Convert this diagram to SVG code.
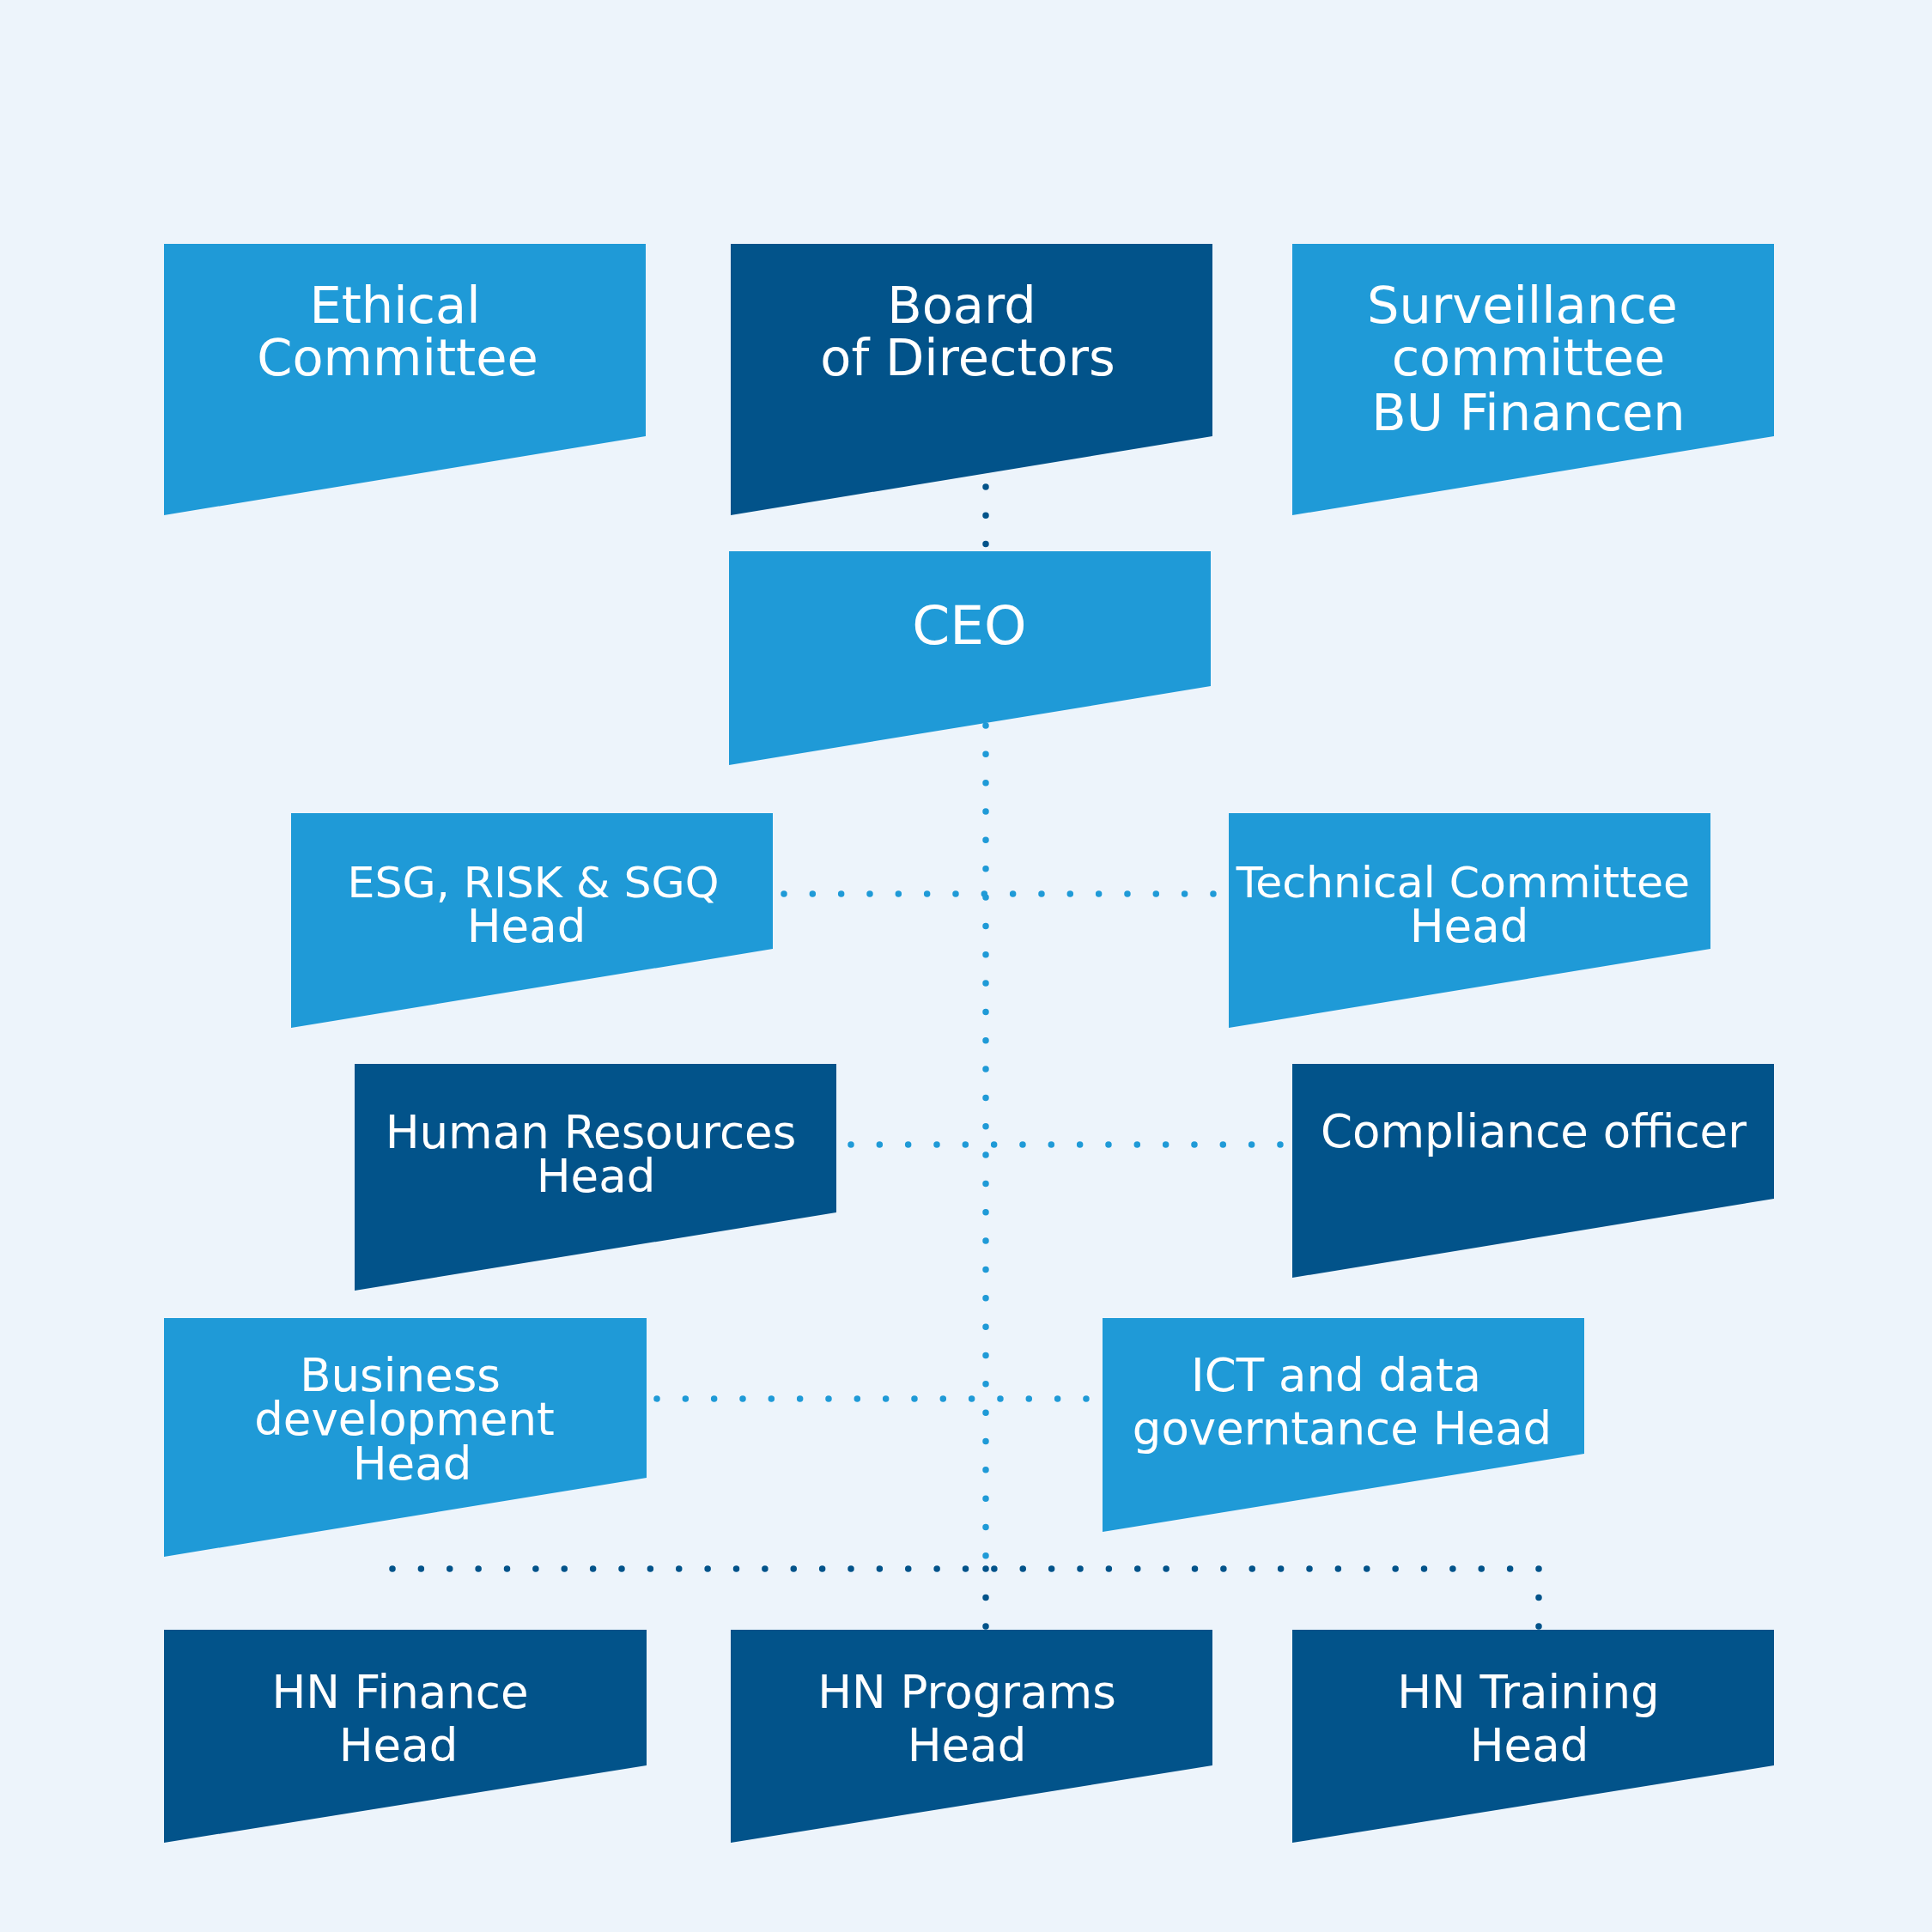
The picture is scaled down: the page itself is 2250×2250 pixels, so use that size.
<svg xmlns="http://www.w3.org/2000/svg" width="2250" height="2250" viewBox="0 0 2250 2250">
<style>
.light{fill:#1f9ad7}
.dark{fill:#02538a}
text{font-family:"DejaVu Sans","Liberation Sans",sans-serif;fill:#ffffff;text-anchor:middle}
.big{font-size:59px}
.mid{font-size:53px}
.sm{font-size:50.5px}
.ceo{font-size:63px}
.dl{fill:none;stroke:#1f9ad7;stroke-width:7.5;stroke-linecap:round}
.dd{fill:none;stroke:#02538a;stroke-width:7.5;stroke-linecap:round}
</style>
<rect width="2250" height="2250" fill="#edf4fb"/>
<g id="connectors">
<path class="dd" d="M1148 567 V634" stroke-dasharray="0 33.3"/>
<path class="dl" d="M1148 845 V1812" stroke-dasharray="0 33.34"/>
<path class="dl" d="M913 1041 H1413" stroke-dasharray="0 33.33"/>
<path class="dl" d="M991 1333 H1491" stroke-dasharray="0 33.33"/>
<path class="dl" d="M765 1629 H1265" stroke-dasharray="0 33.33"/>
<path class="dd" d="M457 1827 H1792" stroke-dasharray="0 33.375"/>
<path class="dd" d="M1148 1827 V1895" stroke-dasharray="0 33.5"/>
<path class="dd" d="M1792 1827 V1895" stroke-dasharray="0 33.5"/>
</g>
<g id="ethical">
<polygon class="light" points="191,284 752,284 752,508 191,600"/>
<text class="big" x="460" y="376">Ethical</text>
<text class="big" x="463" y="437">Committee</text>
</g>
<g id="board">
<polygon class="dark" points="851,284 1412,284 1412,508 851,600"/>
<text class="big" x="1120" y="376">Board</text>
<text class="big" x="1127" y="437">of Directors</text>
</g>
<g id="surveillance">
<polygon class="light" points="1505,284 2066,284 2066,508 1505,600"/>
<text class="big" x="1773" y="376">Surveillance</text>
<text class="big" x="1780" y="437">committee</text>
<text class="big" x="1780" y="501">BU Financen</text>
</g>
<g id="ceo">
<polygon class="light" points="849,642 1410,642 1410,799 849,891"/>
<text class="ceo" x="1129" y="750">CEO</text>
</g>
<g id="esg">
<polygon class="light" points="339,947 900,947 900,1105 339,1197"/>
<text class="sm" x="621" y="1045">ESG, RISK &amp; SGQ</text>
<text class="mid" x="613" y="1097">Head</text>
</g>
<g id="technical">
<polygon class="light" points="1431,947 1992,947 1992,1105 1431,1197"/>
<text class="sm" x="1704" y="1045">Technical Committee</text>
<text class="mid" x="1711" y="1097">Head</text>
</g>
<g id="hr">
<polygon class="dark" points="413,1239 974,1239 974,1412 413,1503"/>
<text class="mid" x="688" y="1337">Human Resources</text>
<text class="mid" x="694" y="1388">Head</text>
</g>
<g id="compliance">
<polygon class="dark" points="1505,1239 2066,1239 2066,1396 1505,1488"/>
<text class="mid" x="1786" y="1336">Compliance officer</text>
</g>
<g id="business">
<polygon class="light" points="191,1535 753,1535 753,1721 191,1813"/>
<text class="mid" x="466" y="1620">Business</text>
<text class="mid" x="471" y="1671">development</text>
<text class="mid" x="480" y="1723">Head</text>
</g>
<g id="ict">
<polygon class="light" points="1284,1535 1845,1535 1845,1693 1284,1784"/>
<text class="mid" x="1556" y="1620">ICT and data</text>
<text class="mid" x="1563" y="1682">governtance Head</text>
</g>
<g id="hn-finance">
<polygon class="dark" points="191,1898 753,1898 753,2056 191,2146"/>
<text class="mid" x="466" y="1989">HN Finance</text>
<text class="mid" x="464" y="2051">Head</text>
</g>
<g id="hn-programs">
<polygon class="dark" points="851,1898 1412,1898 1412,2056 851,2146"/>
<text class="mid" x="1126" y="1989">HN Programs</text>
<text class="mid" x="1126" y="2051">Head</text>
</g>
<g id="hn-training">
<polygon class="dark" points="1505,1898 2066,1898 2066,2056 1505,2146"/>
<text class="mid" x="1780" y="1989">HN Training</text>
<text class="mid" x="1781" y="2051">Head</text>
</g>
</svg>
